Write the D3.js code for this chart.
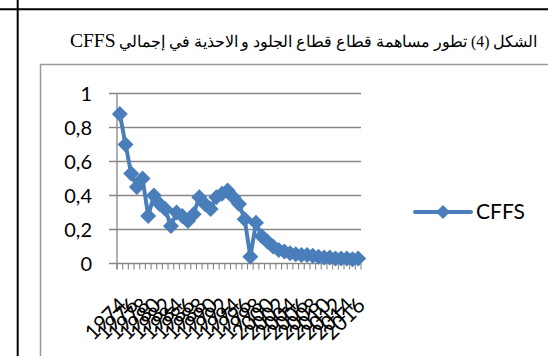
<!DOCTYPE html>
<html>
<head>
<meta charset="utf-8">
<script src="https://cdn.jsdelivr.net/npm/d3@7"></script>
<style>
html,body{margin:0;padding:0;background:#fff;}
svg{display:block;}
</style>
</head>
<body>
<svg id="c" width="548" height="356"></svg>
<script>
const years = ["1974","1975","1976","1977","1978","1979","1980","1981","1982","1983","1984","1985","1986","1987","1988","1989","1990","1991","1992","1993","1994","1995","1996","1997","1998","1999","2000","2001","2002","2003","2004","2005","2006","2007","2008","2009","2010","2011","2012","2013","2014","2015","2016"];
const cffs = [0.88,0.70,0.53,0.45,0.50,0.28,0.40,0.35,0.32,0.22,0.30,0.28,0.25,0.29,0.39,0.35,0.32,0.39,0.41,0.43,0.39,0.35,0.26,0.04,0.24,0.16,0.13,0.10,0.08,0.07,0.06,0.055,0.05,0.05,0.045,0.04,0.035,0.035,0.03,0.03,0.03,0.025,0.03];
const yTicks = [0,0.2,0.4,0.6,0.8,1];
const yTickLabels = ["0","0,2","0,4","0,6","0,8","1"];
const seriesName = "CFFS";
const titleArabic = "الشكل (4) تطور مساهمة قطاع قطاع الجلود و الاحذية في إجمالي";
const titleLatin = "CFFS";

const svg = d3.select("#c");
const blue = "#4A7EBB";
const grid = "#868686";

// page lines
svg.append("line").attr("x1",0).attr("x2",548).attr("y1",9.3).attr("y2",9.3).attr("stroke","#000").attr("stroke-width",2);
svg.append("line").attr("x1",17.7).attr("x2",17.7).attr("y1",0).attr("y2",356).attr("stroke","#000").attr("stroke-width",2);

// title: Latin part on the left, Arabic part fitted between x=119 and x=537
svg.append("text")
  .attr("x",70).attr("y",47)
  .attr("font-family","'Liberation Serif','DejaVu Serif',serif")
  .attr("font-size",19.5).attr("fill","#000")
  .text(titleLatin);
const title = svg.append("text")
  .attr("x",328).attr("y",47)
  .attr("text-anchor","middle")
  .attr("direction","rtl")
  .attr("font-family","'Liberation Serif','DejaVu Serif',serif")
  .attr("font-size",17)
  .attr("fill","#000")
  .text(titleArabic);
{
  const len = title.node().getComputedTextLength();
  if (len > 0) {
    const fs = Math.min(20, 17 * 416 / len);
    title.attr("font-size", fs);
  }
}

// chart border
svg.append("path").attr("d","M40.5,356 L40.5,64.5 L548,64.5").attr("fill","none").attr("stroke","#9a9a9a").attr("stroke-width",1.5);

const x = d3.scaleBand().domain(years).range([117,361]).padding(0);
const y = d3.scaleLinear().domain([0,1]).range([263.5,93.5]);

// gridlines
svg.append("g").selectAll("line").data(yTicks).join("line")
  .attr("x1",109).attr("x2",361)
  .attr("y1",d=>y(d)).attr("y2",d=>y(d))
  .attr("stroke",grid).attr("stroke-width",1.3);
// y axis line
svg.append("line").attr("x1",117).attr("x2",117).attr("y1",y(1)).attr("y2",y(0)+6).attr("stroke",grid).attr("stroke-width",1.3);
// x ticks
const bounds = years.map(d=>x(d)).concat([x.range()[1]]);
svg.append("g").selectAll("line").data(bounds).join("line")
  .attr("x1",d=>d).attr("x2",d=>d)
  .attr("y1",y(0)).attr("y2",y(0)+6)
  .attr("stroke",grid).attr("stroke-width",1.1);

// y labels
svg.append("g").selectAll("text").data(yTicks).join("text")
  .attr("x",92).attr("y",d=>y(d)).attr("dy","0.35em")
  .attr("text-anchor","end")
  .attr("font-family","Lato, 'Open Sans', sans-serif")
  .attr("font-size",20).attr("fill","#000")
  .text((d,i)=>yTickLabels[i]);

// x labels
svg.append("g").selectAll("text").data(years.filter((d,i)=>i%2===0)).join("text")
  .attr("transform",d=>`translate(${x(d)+x.bandwidth()/2+3},${y(0)+38}) rotate(-45)`)
  .attr("text-anchor","end")
  .attr("dy","0.35em")
  .attr("font-family","Lato, 'Open Sans', sans-serif")
  .attr("font-size",21).attr("fill","#000")
  .text(d=>d);

// line
const cx = (d,i)=>x(years[i])+x.bandwidth()/2;
svg.append("path").datum(cffs)
  .attr("d",d3.line().x((d,i)=>cx(d,i)).y(d=>y(d)))
  .attr("fill","none").attr("stroke",blue).attr("stroke-width",4).attr("stroke-linejoin","round");
const dia = "M0,-8L8,0L0,8L-8,0Z";
svg.append("g").selectAll("path").data(cffs).join("path")
  .attr("d",dia)
  .attr("transform",(d,i)=>`translate(${cx(d,i)},${y(d)})`)
  .attr("fill",blue);

// legend
svg.append("line").attr("x1",415).attr("x2",471).attr("y1",212).attr("y2",212).attr("stroke",blue).attr("stroke-width",4).attr("stroke-linecap","round");
svg.append("path").attr("d","M0,-7L7,0L0,7L-7,0Z").attr("transform","translate(443,212)").attr("fill",blue);
svg.append("text").attr("x",476).attr("y",212).attr("dy","0.35em")
  .attr("font-family","Lato, 'Open Sans', sans-serif").attr("font-size",21).attr("fill","#000")
  .text(seriesName);
</script>
</body>
</html>
